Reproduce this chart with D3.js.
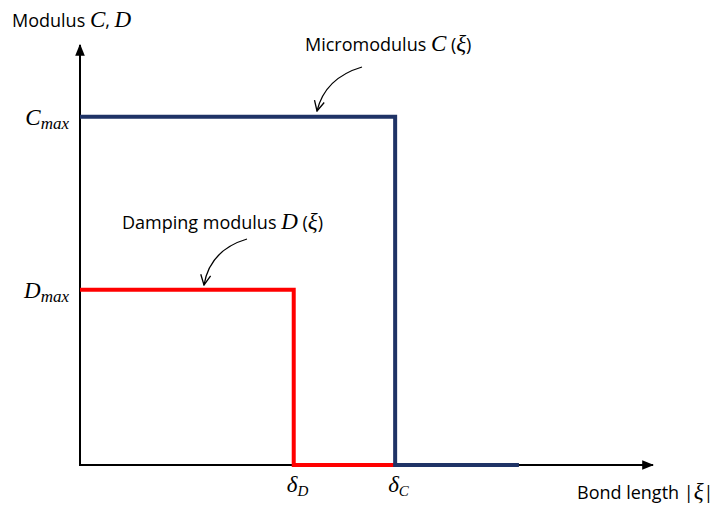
<!DOCTYPE html>
<html>
<head>
<meta charset="utf-8">
<script src="https://cdn.jsdelivr.net/npm/d3@7"></script>
<style>
  body { margin: 0; background: #fff; }
  .lbl { font-family: "Open Sans", "Noto Sans", sans-serif; font-size: 18px; fill: #000; }
  .math { font-family: "Liberation Serif", serif; font-style: italic; font-size: 23px; fill: #000; }
</style>
</head>
<body>
<div id="chart"></div>
<script>
// schematic step functions, normalised units
const xTicks = [
  { key: 'D', x: 0.373 },
  { key: 'C', x: 0.55 }
];
const cSteps = [[0, 0.829], [0.55, 0.829], [0.55, 0], [0.766, 0]];
const dSteps = [[0, 0.417], [0.373, 0.417], [0.373, 0], [0.55, 0]];
const yTicks = [
  { key: 'C', y: 0.829 },
  { key: 'D', y: 0.417 }
];

const width = 717;
const height = 510;

const svg = d3.select('#chart')
  .append('svg')
  .attr('width', width)
  .attr('height', height);

const x = d3.scaleLinear().domain([0, 1]).range([80, 653]);
const y = d3.scaleLinear().domain([0, 1]).range([465, 45]);

const defs = svg.append('defs');
defs.append('marker')
  .attr('id', 'axisHead')
  .attr('viewBox', '0 0 10 10')
  .attr('refX', 9).attr('refY', 5)
  .attr('markerWidth', 6).attr('markerHeight', 6)
  .attr('markerUnits', 'strokeWidth')
  .attr('orient', 'auto')
  .append('path')
  .attr('d', 'M0,1 L10,5 L0,9 Z')
  .attr('fill', '#000');
defs.append('marker')
  .attr('id', 'openHead')
  .attr('viewBox', '0 0 12 12')
  .attr('refX', 11).attr('refY', 6)
  .attr('markerWidth', 12).attr('markerHeight', 12)
  .attr('markerUnits', 'userSpaceOnUse')
  .attr('orient', 'auto')
  .append('path')
  .attr('d', 'M1,1 L11,6 L1,11')
  .attr('fill', 'none')
  .attr('stroke', '#000')
  .attr('stroke-width', 1.3);

const line = d3.line()
  .x((d) => x(d[0]))
  .y((d) => y(d[1]));

// axes
svg.append('line')
  .attr('x1', x(0)).attr('y1', y(0))
  .attr('x2', x(1)).attr('y2', y(0))
  .attr('stroke', '#000').attr('stroke-width', 2)
  .attr('marker-end', 'url(#axisHead)');
svg.append('line')
  .attr('x1', x(0)).attr('y1', y(0) + 1)
  .attr('x2', x(0)).attr('y2', y(1))
  .attr('stroke', '#000').attr('stroke-width', 2)
  .attr('marker-end', 'url(#axisHead)');

// step lines
svg.append('path')
  .datum(dSteps)
  .attr('fill', 'none')
  .attr('stroke', '#ff0000')
  .attr('stroke-width', 4)
  .attr('d', line);
svg.append('path')
  .datum(cSteps)
  .attr('fill', 'none')
  .attr('stroke', '#1f3366')
  .attr('stroke-width', 4)
  .attr('d', line);

// y labels
yTicks.forEach((t) => {
  const txt = svg.append('text')
    .attr('class', 'math')
    .attr('x', 69)
    .attr('y', y(t.y) + 8)
    .attr('text-anchor', 'end');
  txt.append('tspan').text(t.key);
  txt.append('tspan').attr('font-size', 17).attr('dy', 4).text('max');
});

// x labels
xTicks.forEach((t) => {
  const txt = svg.append('text')
    .attr('class', 'math')
    .attr('x', x(t.x) - 7)
    .attr('y', 492);
  txt.append('tspan').text('δ');
  txt.append('tspan').attr('font-size', 15).attr('dy', 4).text(t.key);
});

// axis titles
const yTitle = svg.append('text').attr('class', 'lbl').attr('x', 12).attr('y', 27);
yTitle.append('tspan').text('Modulus ');
yTitle.append('tspan').attr('class', 'math').attr('font-size', 20).text('C');
yTitle.append('tspan').text(', ');
yTitle.append('tspan').attr('class', 'math').attr('font-size', 20).text('D');

const xTitle = svg.append('text').attr('class', 'lbl').attr('x', 577).attr('y', 499);
xTitle.append('tspan').text('Bond length |');
xTitle.append('tspan').attr('class', 'math').attr('font-size', 20).text('ξ');
xTitle.append('tspan').text('|');

// annotations
const notes = [
  { name: 'Micromodulus ', sym: 'C', tx: 305, ty: 51, from: [362, 67], ctrl: [325, 78], to: [317, 111] },
  { name: 'Damping modulus ', sym: 'D', tx: 122, ty: 229, from: [247, 239], ctrl: [210, 250], to: [204, 285] }
];
notes.forEach((n) => {
  const t = svg.append('text').attr('class', 'lbl').attr('x', n.tx).attr('y', n.ty);
  t.append('tspan').text(n.name);
  t.append('tspan').attr('class', 'math').attr('font-size', 20).text(n.sym);
  t.append('tspan').text(' (');
  t.append('tspan').attr('class', 'math').attr('font-size', 20).text('ξ');
  t.append('tspan').text(')');

  const p = d3.path();
  p.moveTo(n.from[0], n.from[1]);
  p.quadraticCurveTo(n.ctrl[0], n.ctrl[1], n.to[0], n.to[1]);
  svg.append('path')
    .attr('d', p.toString())
    .attr('fill', 'none')
    .attr('stroke', '#000')
    .attr('stroke-width', 1.3)
    .attr('marker-end', 'url(#openHead)');
});
</script>
</body>
</html>
